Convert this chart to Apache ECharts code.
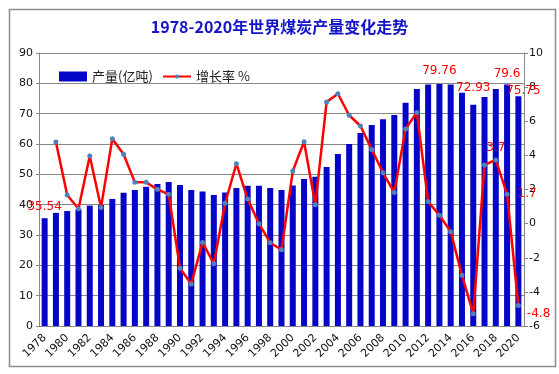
<!DOCTYPE html>
<html>
<head>
<meta charset="utf-8">
<script src="https://cdn.jsdelivr.net/npm/echarts@6/dist/echarts.min.js"></script>
<style>
html,body{margin:0;padding:0;background:#fff;}
#c{width:559px;height:374px;}
</style>
</head>
<body>
<div id="c"></div>
<script>
var years = [];
for (var y = 1978; y <= 2020; y++) years.push(String(y));

var output = [35.54, 37.3, 37.9, 38.5, 39.7, 39.9, 41.9, 43.9, 44.8, 45.9, 46.8, 47.5, 46.5, 44.8, 44.3, 43.2, 44.0, 45.5, 46.2, 46.2, 45.5, 44.8, 46.3, 48.5, 49.2, 52.4, 56.7, 60.0, 63.6, 66.3, 68.2, 69.6, 73.6, 78.1, 79.6, 79.76, 79.6, 76.9, 72.93, 75.5, 78.1, 79.6, 75.75];

var growth = [null, 4.78, 1.68, 0.87, 3.96, 0.95, 4.98, 4.06, 2.42, 2.42, 2.01, 1.72, -2.62, -3.54, -1.1, -2.35, 1.19, 3.51, 1.44, 0.0, -1.12, -1.53, 3.08, 4.8, 1.11, 7.13, 7.61, 6.35, 5.72, 4.35, 2.98, 1.83, 5.55, 6.52, 1.29, 0.49, -0.47, -3.03, -5.28, 3.44, 3.73, 1.72, -4.8];

var leftTicks = {min: 0, max: 90, step: 10};
var rightTicks = {min: -6, max: 10, step: 2};

var barLabelIdx = {0: {distance: 5}, 35: {distance: 7}, 38: {distance: 11}, 41: {distance: 5}, 42: {distance: -1, offset: [5, 0]}};
var lineLabelIdx = {40: {position: 'top', distance: 4, text: '3.7'}, 41: {position: 'right', distance: 8, text: '1.7'}, 42: {position: 'right', distance: 6, offset: [0, 8], text: '-4.8'}};

var barData = output.map(function (v, i) {
  var d = {value: v};
  if (barLabelIdx[i]) {
    var c = barLabelIdx[i];
    d.label = {show: true, position: 'top', distance: c.distance, offset: c.offset || [0, 0], color: '#ff0000', fontSize: 12, fontFamily: 'DejaVu Sans', formatter: String(v)};
  }
  return d;
});
var lineData = growth.map(function (v, i) {
  var d = {value: v};
  if (lineLabelIdx[i]) {
    var c = lineLabelIdx[i];
    d.label = {show: true, position: c.position, distance: c.distance, offset: c.offset || [0, 0], color: '#ff0000', fontSize: 12, fontFamily: 'DejaVu Sans', formatter: c.text};
  }
  return d;
});

var chart = echarts.init(document.getElementById('c'), null, {renderer: 'canvas'});
chart.setOption({
  animation: false,
  backgroundColor: '#fff',
  graphic: [{
    type: 'rect', left: 7, top: 7, shape: {width: 546, height: 357},
    style: {fill: 'none', stroke: '#8c8c8c', lineWidth: 1.5}, z: -1
  }],
  title: {
    text: '1978-2020年世界煤炭产量变化走势',
    left: 'center', top: 14,
    textStyle: {color: '#1414c8', fontSize: 16, fontWeight: 'bold', fontFamily: 'Noto Sans CJK SC'}
  },
  legend: [{
    left: 54, top: 65, itemWidth: 28, itemHeight: 10,
    textStyle: {color: '#222', fontSize: 13, fontFamily: 'Noto Sans CJK SC'},
    data: [{name: '产量(亿吨)', icon: 'rect'}]
  }, {
    left: 157, top: 65, itemWidth: 28, itemHeight: 5,
    textStyle: {color: '#222', fontSize: 13, fontFamily: 'Noto Sans CJK SC'},
    data: [{name: '增长率 %'}]
  }],
  grid: {left: 39, right: 35, top: 53, bottom: 48},
  xAxis: {
    type: 'category', data: years,
    axisLine: {lineStyle: {color: '#888', width: 1}},
    axisTick: {show: false},
    axisLabel: {rotate: 45, interval: 1, color: '#111', fontSize: 11, fontFamily: 'DejaVu Sans', margin: 10}
  },
  yAxis: [{
    type: 'value', min: leftTicks.min, max: leftTicks.max, interval: leftTicks.step,
    axisLine: {show: true, lineStyle: {color: '#888'}},
    axisTick: {show: true, length: 3, lineStyle: {color: '#888'}},
    axisLabel: {color: '#111', fontSize: 11, fontFamily: 'DejaVu Sans', margin: 6},
    splitLine: {lineStyle: {color: '#888', width: 1}}
  }, {
    type: 'value', min: rightTicks.min, max: rightTicks.max, interval: rightTicks.step,
    position: 'right',
    axisLine: {show: true, lineStyle: {color: '#888'}},
    axisTick: {show: true, length: 4, lineStyle: {color: '#888'}},
    axisLabel: {color: '#111', fontSize: 11, fontFamily: 'DejaVu Sans', margin: 5},
    splitLine: {show: false}
  }],
  series: [{
    name: '产量(亿吨)', type: 'bar', yAxisIndex: 0,
    data: barData, barWidth: 6,
    itemStyle: {color: '#0505c8'}
  }, {
    name: '增长率 %', type: 'line', yAxisIndex: 1,
    data: lineData,
    symbol: 'circle', symbolSize: 5, showAllSymbol: true,
    lineStyle: {color: '#ff0000', width: 2.5},
    itemStyle: {color: '#4f81bd'},
    z: 5
  }]
});
</script>
</body>
</html>
